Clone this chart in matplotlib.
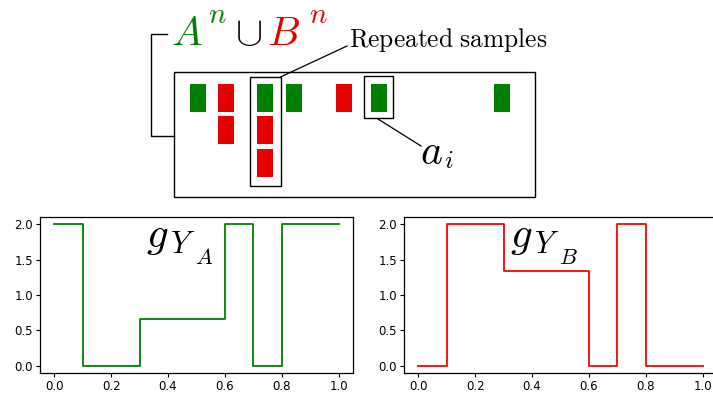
import numpy as np
import matplotlib
matplotlib.use('Agg')
import matplotlib.pyplot as plt
from matplotlib.patches import Rectangle

plt.rcParams['mathtext.fontset'] = 'cm'

# step functions g_{Y_A} and g_{Y_B}
edges = [0.0, 0.1, 0.3, 0.6, 0.7, 0.8, 1.0]
g_a = [2.0, 0.0, 2 / 3, 2.0, 0.0, 2.0]
g_b = [0.0, 2.0, 4 / 3, 0.0, 2.0, 0.0]

# samples in the diagram: column centre (px), row, set
sample_col = [198, 226, 226, 265, 265, 265, 294, 344, 379, 502]
sample_row = [0, 0, 1, 0, 1, 2, 0, 0, 0, 0]
sample_set = ['A', 'B', 'B', 'A', 'B', 'B', 'A', 'B', 'A', 'A']

GREEN = '#008000'
RED_BOX = '#e60000'
RED = '#ff0000'
colors = {'A': GREEN, 'B': RED_BOX}

fig = plt.figure(figsize=(7.13, 4.0), dpi=100)


def step_plot(ax, vals, color):
    xs = np.array(edges)
    ys = np.append(vals, vals[-1])
    ax.step(xs, ys, where='post', color=color, lw=1.3)
    ax.set_xticks([0, 0.2, 0.4, 0.6, 0.8, 1.0])
    ax.set_yticks([0, 0.5, 1.0, 1.5, 2.0])
    ax.tick_params(labelsize=8.5, length=3, width=0.8, pad=2)
    for s in ax.spines.values():
        s.set_linewidth(0.9)


ax1 = fig.add_axes([40 / 713, 27 / 400, 313 / 713, 156 / 400])
step_plot(ax1, g_a, GREEN)
ax2 = fig.add_axes([404 / 713, 27 / 400, 313 / 713, 156 / 400])
step_plot(ax2, g_b, RED)

# overlay in pixel coordinates for the diagram and labels
ov = fig.add_axes([0, 0, 1, 1], zorder=10)
ov.set_xlim(0, 713)
ov.set_ylim(400, 0)
ov.axis('off')
ov.patch.set_alpha(0)

ov.add_patch(Rectangle((174, 72), 361, 124.5, fill=False, ec='black', lw=1))
row_top = [83.5, 116, 149]
for c, r, s in zip(sample_col, sample_row, sample_set):
    ov.add_patch(Rectangle((c - 8, row_top[r]), 16, 28, fc=colors[s], ec='none'))

# highlight boxes
ov.add_patch(Rectangle((250, 77), 30.5, 109, fill=False, ec='black', lw=1))
ov.add_patch(Rectangle((363.5, 76), 29, 42, fill=False, ec='black', lw=1))

# connectors
ov.plot([280.5, 347], [77, 46], color='black', lw=0.9)
ov.plot([378, 421], [119, 146], color='black', lw=0.9)
ov.plot([167, 151, 151, 174], [33.5, 33.5, 136, 136], color='black', lw=1)

ov.text(349, 46.5, r'$\mathrm{Repeated\ samples}$', fontsize=18.3, va='baseline', ha='left')
ov.text(420, 164, r'$a$', fontsize=30, va='baseline', ha='left')
ov.text(444, 168, r'$i$', fontsize=18, va='baseline', ha='left')

# A^n U B^n
ov.text(171, 45, r'$A$', fontsize=29.5, color=GREEN, va='baseline', ha='left')
ov.text(208, 23, r'$n$', fontsize=21, color=GREEN, va='baseline', ha='left')
ov.text(235, 45, r'$\cup$', fontsize=29.5, color='black', va='baseline', ha='left')
ov.text(267, 45, r'$B$', fontsize=29.5, color=RED_BOX, va='baseline', ha='left')
ov.text(309, 23, r'$n$', fontsize=21, color=RED_BOX, va='baseline', ha='left')

# g_{Y_A}, g_{Y_B}
for x0, sub in [(146, 'A'), (510, 'B')]:
    ov.text(x0, 247, r'$g$', fontsize=31, va='baseline', ha='left')
    ov.text(x0 + 24, 253, r'$Y$', fontsize=22, va='baseline', ha='left')
    ov.text(x0 + 49, 264, '$' + sub + '$', fontsize=16, va='baseline', ha='left')

fig.savefig('out.png', dpi=100)
